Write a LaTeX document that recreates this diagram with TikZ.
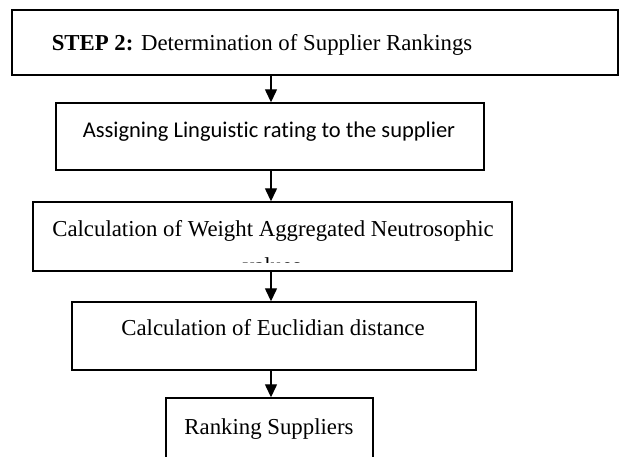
\documentclass[tikz,border=0pt]{standalone}
\usepackage{fontspec}
\setmainfont{Liberation Serif}
\newfontfamily\narrowsans[Ligatures={NoCommon}]{Carlito}
\usetikzlibrary{arrows.meta}
\tikzset{
  boxnode/.style={draw, line width=1.4pt, rectangle, inner sep=0pt},
  txt/.style={inner sep=0pt, anchor=base, font=\fontsize{22.8}{27}\selectfont},
  flow/.style={line width=1.3pt, -{Triangle[width=12pt,length=13pt]}},
}
\begin{document}
\begin{tikzpicture}[x=1pt,y=-1pt]
\useasboundingbox (0,0) rectangle (619,456);
\clip (0,0) rectangle (619,456);
% boxes
\node[boxnode, minimum width=606pt, minimum height=65pt] (b1) at (315,42.5) {};
\node[boxnode, minimum width=428pt, minimum height=67pt] (b2) at (270,136.5) {};
\node[boxnode, minimum width=479pt, minimum height=69pt] (b3) at (272.5,236.5) {};
\node[boxnode, minimum width=404pt, minimum height=68pt] (b4) at (274,336) {};
\node[boxnode, minimum width=207pt, minimum height=80pt] (b5) at (269.5,438) {};
% texts
\node[txt] (t1) at (262,50) {\textbf{STEP 2:} Determination of Supplier Rankings};
\node[txt, font=\fontsize{22.5}{26}\selectfont] (t2) at (269,137) {\narrowsans Assigning Linguistic rating to the supplier};
\begin{scope}
\clip (b3.north west) rectangle ([yshift=9pt]b3.south east);
\node[txt] (t3) at (273,236) {Calculation of Weight Aggregated Neutrosophic};
\node[txt] (t3b) at (272,273) {values};
\end{scope}
\node[txt] (t4) at (273,335) {Calculation of Euclidian distance};
\node[txt] (t5) at (269,434) {Ranking Suppliers};
% connectors
\coordinate (a1s) at (271,75);
\draw[flow] (a1s) -- (a1s |- b2.north);
\draw[flow] (b2.south -| a1s) -- (a1s |- b3.north);
\draw[flow] (b3.south -| a1s) -- (a1s |- b4.north);
\draw[flow] (b4.south -| a1s) -- (a1s |- b5.north);
\end{tikzpicture}
\end{document}
